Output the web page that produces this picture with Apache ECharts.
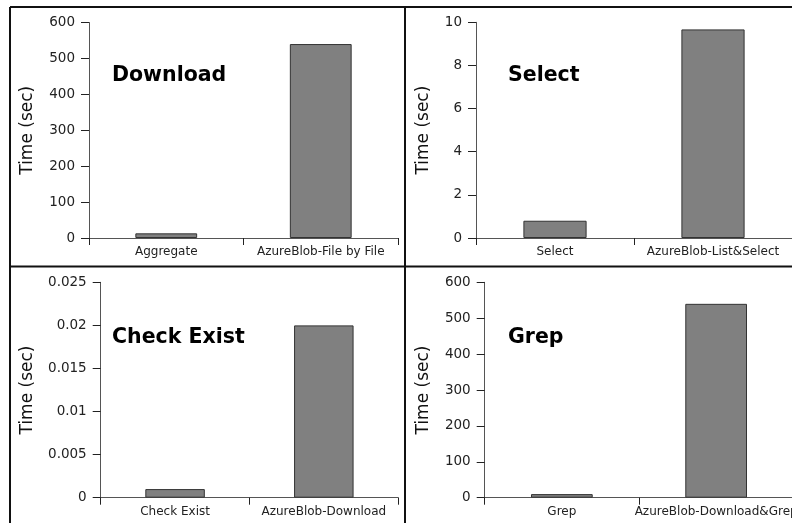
<!DOCTYPE html>
<html>
<head>
<meta charset="utf-8">
<script src="https://cdn.jsdelivr.net/npm/echarts@6/dist/echarts.min.js"></script>
<style>
html,body{margin:0;padding:0;background:#fff;}
#chart{width:792px;height:523px;}
</style>
</head>
<body>
<div id="chart"></div>
<script>
// Data
var panelTitles = ['Download', 'Select', 'Check Exist', 'Grep'];
var downloadCategories = ['Aggregate', 'AzureBlob-File by File'];
var downloadValues = [13, 540];
var selectCategories = ['Select', 'AzureBlob-List&Select'];
var selectValues = [0.8, 9.67];
var checkCategories = ['Check Exist', 'AzureBlob-Download'];
var checkValues = [0.001, 0.02];
var grepCategories = ['Grep', 'AzureBlob-Download&Grep'];
var grepValues = [10, 540];
var yAxisName = 'Time (sec)';
var yRanges = [[0, 600, 100], [0, 10, 2], [0, 0.025, 0.005], [0, 600, 100]];

var FONT = 'DejaVu Sans';
var chart = echarts.init(document.getElementById('chart'), null, {renderer: 'canvas'});

var grids = [
  {left: 89, top: 22.5, width: 309, height: 215.5, outerBoundsMode: 'none'},
  {left: 476, top: 22.3, width: 316, height: 215.7, outerBoundsMode: 'none'},
  {left: 100.7, top: 282.3, width: 297.5, height: 215.4, outerBoundsMode: 'none'},
  {left: 484.7, top: 282.3, width: 308.6, height: 215.4, outerBoundsMode: 'none'}
];
var nameGaps = [53, 44, 65, 53];
var cats = [downloadCategories, selectCategories, checkCategories, grepCategories];
var vals = [downloadValues, selectValues, checkValues, grepValues];

var xAxes = [], yAxes = [], series = [];
for (var i = 0; i < 4; i++) {
  xAxes.push({
    type: 'category', gridIndex: i, data: cats[i],
    axisLine: {lineStyle: {color: '#555', width: 1}},
    axisTick: {show: true, alignWithLabel: false, length: 7, lineStyle: {color: '#222'}},
    axisLabel: {interval: 0, fontFamily: FONT, fontSize: 12, color: '#222', margin: 8, hideOverlap: false},
    splitLine: {show: false}
  });
  yAxes.push({
    type: 'value', gridIndex: i,
    min: yRanges[i][0], max: yRanges[i][1], interval: yRanges[i][2],
    name: yAxisName, nameLocation: 'middle', nameGap: nameGaps[i],
    nameTextStyle: {fontFamily: FONT, fontSize: 17, color: '#111'},
    axisLine: {show: true, lineStyle: {color: '#555', width: 1}},
    axisTick: {show: true, length: 8, lineStyle: {color: '#222'}},
    axisLabel: {fontFamily: FONT, fontSize: 13.5, color: '#222', margin: 14},
    splitLine: {show: false}
  });
  series.push({
    type: 'bar', xAxisIndex: i, yAxisIndex: i, data: vals[i],
    barWidth: '40%',
    itemStyle: {color: '#808080', borderColor: '#333', borderWidth: 1},
    animation: false
  });
}

var titlePos = [[112, 74], [508, 74], [112, 336], [508, 336]];
var graphics = [];
for (var j = 0; j < 4; j++) {
  graphics.push({
    type: 'text', left: titlePos[j][0], top: titlePos[j][1] - 9,
    style: {text: panelTitles[j], font: 'bold 20.5px "DejaVu Sans"', fill: '#000'}
  });
}
var lineStyle = {stroke: '#111', lineWidth: 2};
graphics.push({type: 'line', shape: {x1: 10, y1: 7, x2: 792, y2: 7}, style: lineStyle});
graphics.push({type: 'line', shape: {x1: 10, y1: 7, x2: 10, y2: 523}, style: lineStyle});
graphics.push({type: 'line', shape: {x1: 405, y1: 7, x2: 405, y2: 523}, style: lineStyle});
graphics.push({type: 'line', shape: {x1: 10, y1: 266.5, x2: 792, y2: 266.5}, style: lineStyle});

chart.setOption({
  animation: false,
  backgroundColor: '#fff',
  grid: grids,
  xAxis: xAxes,
  yAxis: yAxes,
  series: series,
  graphic: graphics
});
</script>
</body>
</html>
